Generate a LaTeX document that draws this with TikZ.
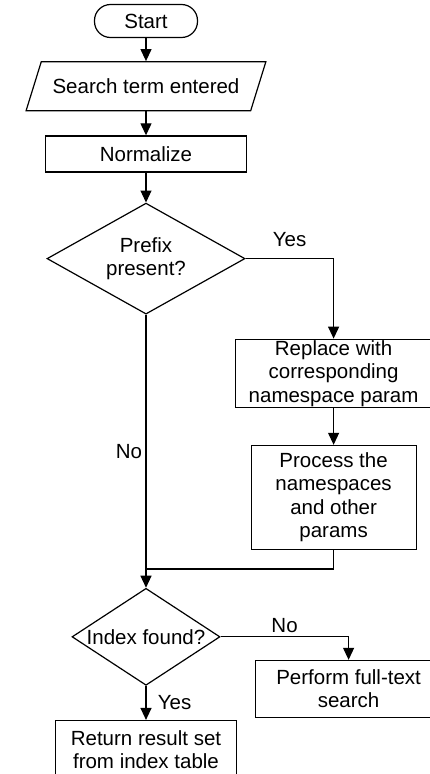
\documentclass[tikz,border=0pt]{standalone}
\usepackage{fontspec}
\setmainfont{Liberation Sans}
\usetikzlibrary{positioning}
\usetikzlibrary{shapes.geometric}
\usetikzlibrary{arrows.meta}

\begin{document}
\begin{tikzpicture}[
                x=1pt, y=-1pt,
                font=\fontsize{20.5}{23.5}\selectfont,
                >={Triangle[length=12pt,width=11pt]},
                conn/.style={->, line width=1.2pt},
                line/.style={line width=1.2pt},
                termnode/.style={rectangle, rounded corners=16pt, draw, line width=1.2pt, minimum width=103pt, minimum height=33pt},
                ionode/.style={trapezium, trapezium left angle=48, trapezium right angle=132, trapezium stretches=true, draw, line width=1.2pt, minimum width=240pt, minimum height=49pt, inner sep=0pt},
                procnode/.style={rectangle, draw, line width=1.2pt, align=center, inner sep=0pt},
                decnode/.style={diamond, aspect=1.7, draw, line width=1.2pt, align=center, inner sep=0pt},
                ]
                \useasboundingbox (0,0) rectangle (430,774);

                \node[termnode] (start) at (146,21) {Start};
                \node[ionode, below=23pt of start] (search) {Search term entered};
                \node[procnode, minimum width=201pt, minimum height=36pt, below=24pt of search] (norm) {Normalize};
                \node[decnode, minimum width=198pt, minimum height=111pt, below=30pt of norm] (prefix) {Prefix\\present?};

                \node[procnode, minimum width=196pt, minimum height=68pt, anchor=north] (replace) at ([xshift=88pt, yshift=-80pt]prefix.east) {Replace with\\corresponding\\namespace param};
                \node[procnode, minimum width=165pt, minimum height=104pt, below=37pt of replace] (process) {Process the\\namespaces\\and other\\params};

                \coordinate[below=19pt of process] (bend);
                \coordinate (merge) at (prefix.south |- bend);

                \node[decnode, minimum width=148pt, minimum height=97pt, below=273pt of prefix] (index) {\makebox[0pt]{Index found?}};
                \node[procnode, minimum width=186pt, minimum height=57pt, anchor=north] (perform) at ([xshift=128pt, yshift=-23pt]index.east) {Perform full-text\\search};
                \node[procnode, minimum width=181pt, minimum height=58pt, below=34pt of index] (result) {Return result set\\from index table};

                \draw[conn] (start.south) -- (search.north);
                \draw[conn] (search.south) -- (norm.north);
                \draw[conn] (norm.south) -- (prefix.north);

                \draw[conn] (prefix.east) -| node[pos=0.25, above=8pt] {Yes} (replace.north);
                \draw[conn] (replace.south) -- (process.north);
                \draw[line] (process.south) |- (merge);
                \draw[line] (prefix.south) -- node[pos=0.54, left] {No} (merge);
                \draw[conn] (merge) -- (index.north);

                \draw[conn] (index.east) -| node[pos=0.25, above] {No} (perform.north);
                \draw[conn] (index.south) -- node[right=8pt] {Yes} (result.north);
            \end{tikzpicture}
\end{document}
